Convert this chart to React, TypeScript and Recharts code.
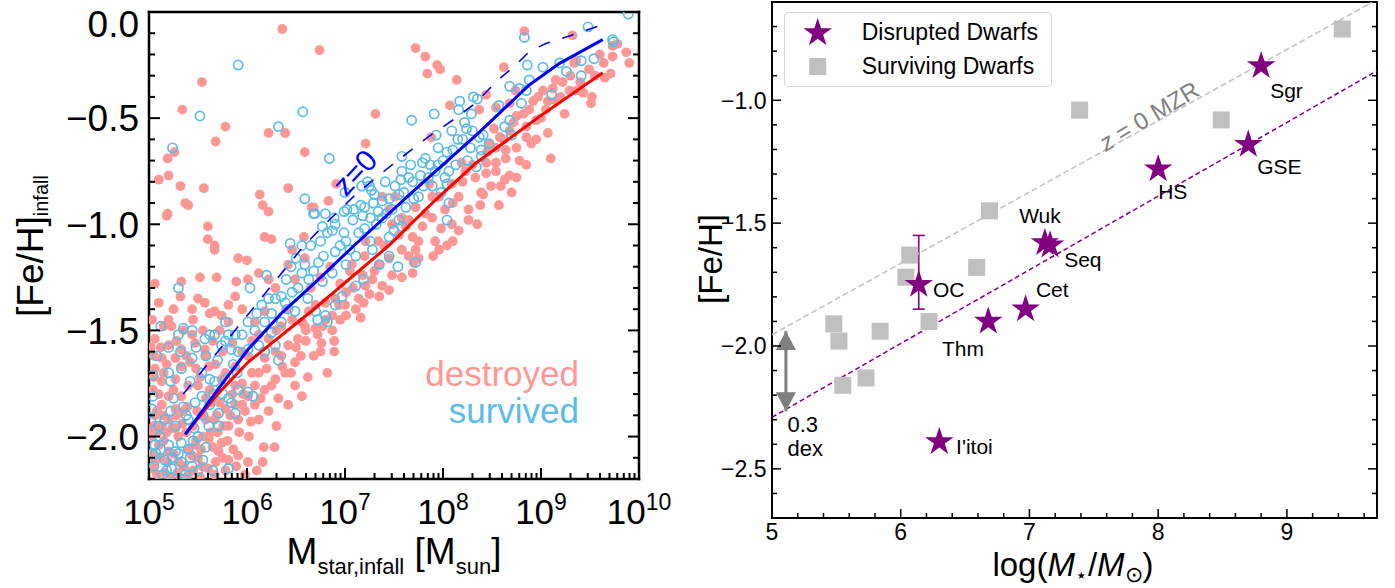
import React from "react";
import { ScatterChart, Scatter, XAxis, YAxis, ErrorBar } from "recharts";

const FONT = '"Liberation Sans", Arial, Helvetica, sans-serif';

// ---------- left panel: log10(M_star,infall) vs [Fe/H]_infall ----------
const destroyed: [number, number][] = [
  [6.36, -0.08], [5.54, -0.33], [5.34, -0.46], [5.78, -0.54], [5.68, -0.61], [6.22, -0.57], [6.39, -0.57],
  [6.59, -0.66], [5.19, -0.69], [5.26, -0.66], [5.2, -0.77], [5.1, -0.79], [5.32, -0.82], [5.56, -0.83],
  [5.37, -0.9], [5.4, -0.91], [5.19, -0.95], [5.18, -0.96], [6.13, -0.86], [6.16, -0.91], [6.22, -0.94],
  [6.42, -0.83], [6.66, -0.92], [5.6, -1.01], [5.6, -1.07], [6.18, -1.06], [6.25, -1.07], [6.58, -1.06],
  [5.67, -1.1],
  [6.74, -0.18], [7.72, -0.17], [7.82, -0.21], [7.94, -0.25], [7.97, -0.27], [7.84, -0.29], [8.14, -0.32],
  [8.07, -0.44], [7.31, -0.48], [7.21, -0.62], [7.88, -0.59], [6.83, -0.89], [6.68, -0.92], [6.91, -0.81],
  [8.19, -0.71], [8.23, -0.75], [8.33, -0.78], [8.09, -0.81], [7.96, -0.87], [8.16, -0.87], [8.26, -0.93],
  [8.02, -0.93], [7.89, -0.97], [8.09, -1.0], [8.26, -0.98], [8.16, -1.03], [7.79, -1.01], [7.69, -1.06],
  [7.92, -1.08], [7.75, -1.08], [7.51, -0.87], [7.45, -0.93], [7.58, -0.97], [7.62, -1.01], [7.86, -0.81],
  [7.89, -0.87], [7.38, -0.87], [7.48, -1.0], [7.34, -1.08], [7.21, -1.08],
  [8.83, -0.09], [9.32, -0.11], [9.87, -0.19], [9.9, -0.24], [9.73, -0.16], [9.78, -0.15], [9.73, -0.21],
  [9.64, -0.24], [9.49, -0.27], [9.36, -0.23], [9.34, -0.24], [9.65, -0.31], [9.71, -0.29], [8.62, -0.26],
  [9.15, -0.32], [9.22, -0.33], [9.02, -0.37], [9.29, -0.37], [9.43, -0.38], [9.36, -0.37], [9.52, -0.4],
  [9.51, -0.43], [8.44, -0.39], [8.74, -0.37], [8.97, -0.4], [9.07, -0.42], [9.15, -0.42], [8.88, -0.46],
  [9.05, -0.46], [9.24, -0.48], [8.75, -0.49], [8.68, -0.43], [8.54, -0.45], [8.37, -0.46], [8.95, -0.51],
  [8.85, -0.54], [9.07, -0.57], [8.95, -0.6], [8.85, -0.59], [8.68, -0.56], [8.58, -0.59], [8.47, -0.62],
  [8.75, -0.64], [8.64, -0.65], [8.54, -0.64], [9.1, -0.69], [8.78, -0.7], [8.85, -0.72], [8.64, -0.69],
  [8.54, -0.71], [8.44, -0.71], [8.68, -0.77], [8.54, -0.75], [8.63, -0.79], [8.49, -0.82], [8.39, -0.85],
  [8.41, -0.86], [8.59, -0.82], [8.38, -0.91], [8.57, -0.91], [8.44, -0.76],
  [5.67, -1.12], [5.91, -1.16], [6.0, -1.17], [6.12, -1.23], [5.69, -1.25], [5.52, -1.25], [6.01, -1.26],
  [5.89, -1.27], [5.33, -1.27], [5.06, -1.28], [5.1, -1.37], [5.32, -1.34], [5.44, -1.4], [5.57, -1.37],
  [5.81, -1.38], [5.67, -1.41], [5.88, -1.34], [5.95, -1.4], [5.03, -1.45], [5.2, -1.45], [5.23, -1.48],
  [5.44, -1.52], [5.74, -1.43], [5.81, -1.46], [5.06, -1.54], [5.2, -1.57], [5.33, -1.59], [5.13, -1.63],
  [5.27, -1.63], [5.06, -1.68], [5.47, -1.56], [5.57, -1.59], [5.33, -1.67], [5.27, -1.73], [5.13, -1.74],
  [5.04, -1.78], [5.2, -1.81], [5.33, -1.81], [5.13, -1.85], [5.27, -1.87], [5.06, -1.9], [5.13, -1.95],
  [5.01, -1.98], [5.27, -1.96], [5.1, -2.04], [5.2, -2.07], [5.06, -2.12], [5.3, -2.12], [5.16, -2.17],
  [5.4, -2.18], [5.54, -2.14], [5.67, -2.18], [5.81, -2.11], [5.91, -2.09], [5.89, -2.14], [5.71, -2.07],
  [5.47, -2.04], [5.61, -2.01], [5.74, -2.03], [5.81, -1.95], [5.91, -1.92], [5.67, -1.92], [5.54, -1.9],
  [5.64, -1.84], [5.78, -1.87], [5.95, -1.85], [6.01, -1.81], [6.08, -1.76], [6.18, -1.78], [6.29, -1.73],
  [6.39, -1.7], [6.49, -1.65], [6.56, -1.81], [6.49, -1.76], [6.17, -2.05], [6.28, -2.05], [6.01, -2.12],
  [6.16, -2.12], [5.88, -1.85], [5.4, -1.76], [5.5, -1.76], [6.12, -1.7], [6.18, -1.63], [6.29, -1.6],
  [6.01, -1.62], [5.88, -1.67], [5.74, -1.73], [5.61, -1.67], [6.42, -1.57], [6.52, -1.54], [6.59, -1.48],
  [6.63, -1.41], [6.56, -1.46], [6.12, -1.52], [6.22, -1.54], [6.35, -1.48], [6.46, -1.45], [6.08, -1.46],
  [6.18, -1.41], [6.29, -1.3], [6.22, -1.26], [6.49, -1.26], [6.59, -1.16], [6.46, -1.12], [6.42, -1.19],
  [5.05, -1.62], [5.15, -1.7], [5.25, -1.78], [5.35, -1.88], [5.45, -1.95], [5.55, -2.0], [5.65, -2.05],
  [5.75, -2.1], [5.1, -1.8], [5.2, -1.92], [5.3, -2.0], [5.4, -2.06], [5.5, -2.1], [5.6, -2.15],
  [5.05, -1.95], [5.15, -2.02], [5.25, -2.08], [5.35, -2.14], [5.45, -2.16], [5.7, -1.98], [5.8, -2.02],
  [5.85, -1.8], [5.95, -1.75], [6.05, -1.7], [5.75, -1.6], [5.65, -1.55], [5.55, -1.5], [5.45, -1.45],
  [5.35, -1.5], [5.25, -1.4], [5.15, -1.48], [5.02, -1.58], [5.42, -1.65], [5.52, -1.72], [5.62, -1.78],
  [5.72, -1.84], [5.92, -1.98], [6.02, -2.0], [6.12, -1.92], [6.22, -1.88], [6.32, -1.82], [6.42, -1.85],
  [6.3, -1.95], [5.08, -2.18], [5.22, -2.19], [5.02, -2.08],
  [5.05, -1.72], [5.12, -1.58], [5.18, -1.66], [5.28, -1.55], [5.38, -1.62], [5.48, -1.68], [5.58, -1.62],
  [5.68, -1.66], [5.78, -1.7], [5.88, -1.76], [5.98, -1.88], [6.08, -1.85], [5.08, -1.88], [5.18, -1.98],
  [5.28, -1.9], [5.38, -1.98], [5.48, -2.02], [5.58, -1.92], [5.68, -2.12], [5.78, -2.16], [5.12, -2.1],
  [5.32, -2.2], [5.52, -2.19], [5.98, -2.18], [6.1, -2.16], [5.62, -1.42], [5.5, -1.35], [5.72, -1.5],
  [5.85, -1.56], [5.95, -1.6], [6.05, -1.55], [6.2, -1.68], [6.35, -1.62], [6.45, -1.7], [6.55, -1.62],
  [6.62, -1.72], [6.72, -1.52], [6.8, -1.45], [6.9, -1.35], [7.0, -1.38], [7.08, -1.3], [7.2, -1.15],
  [7.3, -1.22], [7.4, -1.1], [7.55, -1.05], [7.65, -0.98], [7.72, -0.92], [7.82, -0.95], [7.98, -1.02],
  [8.1, -0.9], [8.2, -0.8], [8.3, -0.72], [8.45, -0.66], [8.52, -0.55], [8.62, -0.6], [8.72, -0.52],
  [8.82, -0.48], [8.92, -0.42], [9.0, -0.5], [9.12, -0.36], [9.2, -0.4], [9.3, -0.3], [9.4, -0.33],
  [9.55, -0.3], [9.6, -0.2], [8.9, -0.62], [8.75, -0.78], [8.7, -0.85], [8.35, -1.0], [8.1, -1.08],
  [7.9, -1.15], [7.7, -1.18],
  [5.02, -2.0], [5.04, -2.15], [5.09, -1.98], [5.14, -1.9], [5.19, -2.12], [5.24, -1.96], [5.29, -2.17],
  [5.34, -1.94], [5.39, -1.86], [5.44, -2.09], [5.49, -1.88], [5.53, -2.06], [5.58, -1.82], [5.63, -1.98],
  [5.69, -1.9], [5.76, -1.95], [5.83, -1.9], [5.86, -2.06], [5.96, -1.8], [6.04, -1.93], [6.14, -1.82],
  [6.25, -1.76], [6.36, -1.67], [6.5, -1.58], [6.6, -1.5], [6.3, -1.5], [6.4, -1.4],
  [7.96, -1.12], [8.04, -1.1], [7.72, -1.12], [7.65, -1.15], [7.75, -1.16], [7.69, -1.23], [7.48, -1.24],
  [7.58, -1.25], [7.45, -1.31], [7.35, -1.34], [7.21, -1.29], [7.14, -1.35], [7.19, -1.37], [7.11, -1.4],
  [7.16, -1.44], [7.01, -1.43], [6.87, -1.43], [6.77, -1.48], [6.87, -1.5], [6.7, -1.49], [6.76, -1.56],
  [6.89, -1.55], [6.75, -1.6], [6.89, -1.6], [6.82, -1.7], [7.28, -1.26], [7.38, -1.29], [7.18, -1.24],
  [7.01, -1.32], [6.94, -1.38], [6.8, -1.37], [7.07, -1.19], [7.35, -1.19], [7.45, -1.16], [7.58, -1.12],
  [6.65, -1.3], [6.75, -1.25], [6.85, -1.2], [6.95, -1.28], [7.05, -1.22], [6.7, -1.38], [6.95, -1.45],
  [7.25, -1.33], [6.6, -1.55], [6.68, -1.62],
];

const survived: [number, number][] = [
  [5.91, -0.25], [5.52, -0.49], [5.24, -0.64], [6.32, -0.54], [6.57, -0.47], [6.59, -0.88], [6.68, -0.95],
  [6.44, -1.09], [6.56, -1.1],
  [6.84, -0.69], [6.69, -0.95], [7.68, -0.51], [7.91, -0.48], [8.17, -0.42], [8.31, -0.4], [8.29, -0.48],
  [8.16, -0.46], [8.24, -0.55], [8.09, -0.56], [7.93, -0.58], [8.15, -0.6], [8.04, -0.66], [8.28, -0.64],
  [7.95, -0.64], [7.58, -0.68], [7.82, -0.69], [7.87, -0.72], [7.67, -0.72], [7.79, -0.71], [7.58, -0.75],
  [7.57, -0.79], [7.77, -0.77], [7.69, -0.8], [8.06, -0.75], [8.13, -0.72], [8.02, -0.78], [8.04, -0.81],
  [7.89, -0.82], [7.98, -0.85], [7.41, -0.8], [7.51, -0.82], [7.25, -0.82], [7.27, -0.84], [7.23, -0.8],
  [7.17, -0.82], [7.0, -0.85], [7.02, -0.93], [6.99, -0.94], [6.8, -0.95], [6.89, -0.97], [6.77, -1.01],
  [6.87, -1.03], [7.16, -0.91], [7.29, -0.9], [7.38, -0.89], [7.34, -0.94], [7.18, -0.96], [7.26, -0.97],
  [7.38, -0.97], [7.48, -0.93], [7.55, -0.98], [7.5, -1.03], [7.62, -0.92], [7.55, -0.86], [7.75, -0.87],
  [8.06, -0.9], [8.04, -0.98], [7.01, -1.08], [7.14, -1.04], [7.26, -1.08], [7.45, -1.06], [7.58, -1.01],
  [6.9, -1.0], [6.82, -1.04], [6.99, -1.04], [7.09, -0.93],
  [9.89, -0.01], [9.48, -0.07], [8.83, -0.12], [9.73, -0.13], [9.74, -0.14], [9.54, -0.22], [9.41, -0.23],
  [9.19, -0.24], [9.26, -0.28], [9.41, -0.3], [9.02, -0.26], [8.86, -0.25], [8.88, -0.32], [8.68, -0.35],
  [8.78, -0.36], [8.85, -0.37], [9.11, -0.39], [8.8, -0.43], [8.57, -0.44], [8.68, -0.51], [8.63, -0.54],
  [8.7, -0.58], [8.47, -0.62], [8.41, -0.58], [8.37, -0.59], [8.39, -0.65], [8.39, -0.68], [8.34, -0.73],
  [8.35, -0.41],
  [5.3, -1.3], [5.12, -1.48], [5.35, -1.49], [5.3, -1.52], [5.44, -1.5], [5.62, -1.52], [5.67, -1.52],
  [5.57, -1.54], [5.78, -1.46], [5.81, -1.52], [5.88, -1.52], [6.01, -1.46], [6.2, -1.24], [6.03, -1.3],
  [6.29, -1.35], [6.35, -1.34], [6.39, -1.37], [6.46, -1.32], [6.56, -1.23], [6.59, -1.19], [6.63, -1.26],
  [6.49, -1.41], [6.35, -1.46], [6.18, -1.46], [6.25, -1.51], [6.12, -1.57], [6.01, -1.59], [5.91, -1.6],
  [5.84, -1.59], [5.74, -1.57], [5.44, -1.63], [5.33, -1.68], [5.2, -1.7], [5.04, -1.71], [5.22, -1.74],
  [5.42, -1.74], [5.54, -1.7], [5.67, -1.74], [5.62, -1.73], [5.78, -1.73], [5.91, -1.78], [6.01, -1.79],
  [6.06, -1.81], [5.81, -1.82], [5.84, -1.84], [5.71, -1.89], [5.88, -1.89], [6.32, -1.64], [6.18, -1.6],
  [6.29, -1.57], [5.04, -1.81], [5.03, -1.87], [5.16, -1.92], [5.27, -1.95], [5.4, -1.92], [5.5, -2.0],
  [5.33, -2.03], [5.2, -2.04], [5.06, -2.04], [5.03, -2.08], [5.16, -2.11], [5.27, -2.07], [5.4, -2.06],
  [5.33, -2.12], [5.44, -2.14], [5.55, -2.11], [5.23, -2.15], [5.37, -2.18], [5.81, -2.15], [5.71, -1.95],
  [5.61, -1.95], [5.11, -2.0], [5.54, -1.81], [5.47, -1.84],
  [5.08, -1.62], [5.2, -1.58], [5.32, -1.6], [5.48, -1.58], [5.58, -1.62], [5.7, -1.64], [5.78, -1.55],
  [5.95, -1.52], [6.08, -1.5], [6.15, -1.38], [6.25, -1.42], [6.42, -1.4], [6.52, -1.3], [6.45, -1.2],
  [6.62, -1.35], [6.68, -1.22], [6.78, -1.15], [6.95, -1.1], [7.05, -1.12], [7.2, -1.02], [7.32, -1.0],
  [7.42, -0.95], [7.6, -0.85], [7.7, -0.88], [7.85, -0.78], [7.95, -0.72], [8.1, -0.65], [8.2, -0.6],
  [8.25, -0.7], [5.1, -1.95], [5.22, -1.88], [5.35, -1.86], [5.45, -2.02], [5.58, -2.05], [5.65, -2.16],
  [5.14, -2.18], [5.28, -2.2], [5.05, -2.14], [5.9, -1.7], [5.75, -1.8], [5.62, -1.85],
  [5.02, -1.93], [5.07, -2.08], [5.12, -2.06], [5.18, -2.16], [5.24, -2.1], [5.3, -2.08], [5.36, -2.2],
  [5.42, -2.1], [5.5, -2.16], [5.46, -1.96], [5.38, -1.9], [5.25, -1.82], [5.55, -1.9], [5.66, -1.8],
  [5.86, -1.66], [6.1, -1.42], [6.22, -1.35], [6.4, -1.26], [6.5, -1.16], [6.65, -1.1], [6.75, -1.08],
  [7.08, -0.98], [7.2, -0.92], [7.3, -0.86], [7.45, -0.88], [7.65, -0.78], [7.8, -0.82], [7.92, -0.75],
  [8.0, -0.7], [8.22, -0.52], [8.3, -0.56],
  [7.54, -1.2], [7.72, -1.18], [7.45, -1.15], [7.35, -1.19], [7.19, -1.26], [7.11, -1.29], [6.97, -1.34],
  [6.9, -1.38], [6.8, -1.43], [6.72, -1.45], [6.82, -1.46], [6.7, -1.41], [7.01, -1.19], [6.87, -1.23],
  [6.77, -1.27], [7.28, -1.12], [7.11, -1.15], [6.9, -1.13], [6.73, -1.18],
];

// running medians and the z=0 relation
const survivedMedian: [number, number][] = [
  [5.37, -1.99], [5.7, -1.78], [6.01, -1.59], [6.35, -1.42], [6.67, -1.285], [7.11, -1.093], [7.7, -0.843],
  [8.35, -0.575], [8.88, -0.344], [9.19, -0.242], [9.63, -0.13],
];
const destroyedMedian: [number, number][] = [
  [5.37, -1.99], [5.7, -1.8], [6.01, -1.65], [6.67, -1.405], [7.46, -1.095], [7.92, -0.887], [8.34, -0.71],
  [8.98, -0.494], [9.63, -0.286],
];
const z0Relation: [number, number][] = [
  [5.35, -1.8], [6.57, -1.107], [6.8, -0.997], [7.12, -0.855], [7.48, -0.72], [7.85, -0.588], [8.11, -0.506],
  [8.33, -0.43], [8.54, -0.33], [8.76, -0.242], [8.88, -0.187], [9.05, -0.148], [9.32, -0.108], [9.64, -0.058],
];

const leftXMajor = [5, 6, 7, 8, 9, 10];
const leftYMajor = [0, -0.5, -1, -1.5, -2];
const leftYLabels = ["0.0", "\u22120.5", "\u22121.0", "\u22121.5", "\u22122.0"];

// ---------- right panel ----------
const dwarfNames = ["Sgr", "GSE", "HS", "Wuk", "Seq", "OC", "Cet", "Thm", "I'itoi"];
const dwarfLogM = [8.8, 8.7, 8.0, 7.12, 7.16, 6.14, 6.97, 6.68, 6.3];
const dwarfFeH = [-0.86, -1.18, -1.28, -1.58, -1.59, -1.75, -1.85, -1.9, -2.39];
const labelLogM = [8.87, 8.77, 8.0, 6.92, 7.27, 6.25, 7.05, 6.32, 6.43];
const labelFeH = [-0.96, -1.27, -1.37, -1.47, -1.65, -1.77, -1.77, -2.01, -2.41];

const survivingLogM = [9.43, 7.39, 8.49, 6.69, 6.07, 6.04, 6.59, 6.22, 5.48, 5.52, 5.84, 5.55, 5.73];
const survivingFeH = [-0.71, -1.04, -1.08, -1.45, -1.63, -1.72, -1.68, -1.9, -1.91, -1.98, -1.94, -2.16, -2.13];

const ocError = { m: 6.14, feh: -1.75, err: [0.1, 0.2] };
const mzrLine: [number, number][] = [[5, -1.954], [9.7, -0.59]];
const offsetLine: [number, number][] = [[5, -2.29], [9.7, -0.88]];
const arrowEnds = [
  { m: 5.108, feh: -1.939, dir: 1 },
  { m: 5.108, feh: -2.266, dir: -1 },
];

const rightXMajor = [5, 6, 7, 8, 9];
const rightYMajor = [-2.5, -2, -1.5, -1];
const rightYLabels = ["\u22122.5", "\u22122.0", "\u22121.5", "\u22121.0"];

// minor tick helpers
const stepTicks = (a: number, b: number, s: number) => {
  const out: number[] = [];
  for (let v = a; v <= b + 1e-9; v += s) out.push(Math.round(v * 1000) / 1000);
  return out;
};
const leftXMinor: number[] = [];
for (let n = 5; n < 10; n++) for (let k = 2; k <= 9; k++) leftXMinor.push(n + Math.log10(k));
const leftYTicks = stepTicks(-2.2, 0, 0.1);
const rightXTicks = stepTicks(5, 9.6, 0.2);
const rightYTicks = stepTicks(-2.7, -0.6, 0.1);

const toPts = (arr: [number, number][]) => arr.map(([m, feh]) => ({ m, feh }));

// plot-area edges (chart-local pixels)
const L = { w: 700, h: 588, left: 149, right: 639, top: 12, bottom: 479 };
const R = { w: 695, h: 588, left: 72, right: 677, top: 2, bottom: 518 };

type Side = "bottom" | "top" | "left" | "right";

function edgeTick(
  side: Side,
  edge: number,
  majors: number[],
  majorLen: number,
  minorLen: number,
  sw: number,
  label?: (v: number, i: number, x: number, y: number) => React.ReactNode
) {
  return (props: any) => {
    const { x, y, payload } = props;
    const v = payload?.value;
    const mi = majors.findIndex((m) => Math.abs(m - v) < 1e-6);
    const len = mi >= 0 ? majorLen : minorLen;
    let ln;
    if (side === "bottom") ln = <line x1={x} x2={x} y1={edge} y2={edge - len} />;
    else if (side === "top") ln = <line x1={x} x2={x} y1={edge} y2={edge + len} />;
    else if (side === "left") ln = <line x1={edge} x2={edge + len} y1={y} y2={y} />;
    else ln = <line x1={edge} x2={edge - len} y1={y} y2={y} />;
    return (
      <g>
        <g stroke="#000" strokeWidth={sw}>{ln}</g>
        {mi >= 0 && label ? label(v, mi, x, y) : null}
      </g>
    );
  };
}

function starPath(cx: number, cy: number, r0: number) {
  const r1 = r0 * 0.381966;
  let d = "";
  for (let i = 0; i < 10; i++) {
    const rad = i % 2 === 0 ? r0 : r1;
    const a = -Math.PI / 2 + (i * Math.PI) / 5;
    d += (i === 0 ? "M" : "L") + (cx + rad * Math.cos(a)).toFixed(2) + "," + (cy + rad * Math.sin(a)).toFixed(2);
  }
  return d + "Z";
}

const none = () => <g />;

function LeftPanel() {
  const axisLine = { stroke: "#000", strokeWidth: 2.5, strokeLinecap: "square" as const };
  return (
    <ScatterChart width={L.w} height={L.h} margin={{ top: 0, right: 0, bottom: 0, left: 0 }}>
      <XAxis
        xAxisId="b" dataKey="m" type="number" domain={[5, 10]} allowDataOverflow
        ticks={[...leftXMajor, ...leftXMinor]} interval={0} height={L.h - L.bottom}
        tickLine={false} axisLine={axisLine}
        tick={edgeTick("bottom", L.bottom, leftXMajor, 11, 6, 2, (v, i, x) => (
          <text x={x} y={524} textAnchor="middle" fontFamily={FONT} fontSize={35} fill="#000">
            10<tspan dy={-14} fontSize={23}>{v}</tspan>
          </text>
        ))}
      />
      <XAxis
        xAxisId="t" orientation="top" type="number" domain={[5, 10]} allowDataOverflow
        ticks={[...leftXMajor, ...leftXMinor]} interval={0} height={L.top}
        tickLine={false} axisLine={axisLine}
        tick={edgeTick("top", L.top, leftXMajor, 11, 6, 2)}
      />
      <YAxis
        yAxisId="l" dataKey="feh" type="number" domain={[-2.2, 0]} allowDataOverflow
        ticks={leftYTicks} interval={0} width={L.left}
        tickLine={false} axisLine={axisLine}
        tick={edgeTick("left", L.left, leftYMajor, 11, 6, 2, (v, i, x, y) => (
          <text x={139} y={y + (i === 0 ? 12 : 0)} dy="0.36em" textAnchor="end" fontFamily={FONT} fontSize={37} fill="#000">
            {leftYLabels[i]}
          </text>
        ))}
      />
      <YAxis
        yAxisId="r" orientation="right" type="number" domain={[-2.2, 0]} allowDataOverflow
        ticks={leftYTicks} interval={0} width={L.w - L.right}
        tickLine={false} axisLine={axisLine}
        tick={edgeTick("right", L.right, leftYMajor, 11, 6, 2)}
      />

      <Scatter xAxisId="b" yAxisId="l" data={toPts(destroyed)} isAnimationActive={false}
        shape={(p: any) => <circle cx={p.cx} cy={p.cy} r={4.9} fill="#ff9797" />} />
      <Scatter xAxisId="b" yAxisId="l" data={toPts(survived)} isAnimationActive={false}
        shape={(p: any) => <circle cx={p.cx} cy={p.cy} r={4.6} fill="none" stroke="#5bbce8" strokeWidth={1.7} />} />

      <Scatter xAxisId="b" yAxisId="l" data={toPts(z0Relation)} isAnimationActive={false} shape={none}
        line={{ stroke: "#0000ff", strokeWidth: 1.6, strokeDasharray: "12 13" }} />
      <Scatter xAxisId="b" yAxisId="l" data={toPts(destroyedMedian)} isAnimationActive={false} shape={none}
        line={{ stroke: "#ff0000", strokeWidth: 3 }} />
      <Scatter xAxisId="b" yAxisId="l" data={toPts(survivedMedian)} isAnimationActive={false} shape={none}
        line={{ stroke: "#0000ff", strokeWidth: 3 }} />

      <Scatter xAxisId="b" yAxisId="l" data={[{ m: 7.1, feh: -0.755 }]} isAnimationActive={false}
        shape={(p: any) => (
          <text x={p.cx} y={p.cy} dy="0.35em" textAnchor="middle" transform={`rotate(-47 ${p.cx} ${p.cy})`}
            fontFamily={FONT} fontSize={30} fill="#0000ff">z=0</text>
        )} />
      <Scatter xAxisId="b" yAxisId="l" data={[{ m: 9.388, feh: -1.764, t: "destroyed", c: "#ff9797" }, { m: 9.388, feh: -1.936, t: "survived", c: "#5bbce8" }]}
        isAnimationActive={false}
        shape={(p: any) => (
          <text x={p.cx} y={p.cy} textAnchor="end" fontFamily={FONT} fontSize={35} fill={p.payload?.c ?? p.c}>
            {p.payload?.t ?? p.t}
          </text>
        )} />
    </ScatterChart>
  );
}

function RightPanel() {
  const axisLine = { stroke: "#000", strokeWidth: 2, strokeLinecap: "square" as const };
  const dwarfs = dwarfNames.map((name, i) => ({ name, m: dwarfLogM[i], feh: dwarfFeH[i] }));
  const labels = dwarfNames.map((name, i) => ({ name, m: labelLogM[i], feh: labelFeH[i] }));
  const squares = survivingLogM.map((m, i) => ({ m, feh: survivingFeH[i] }));
  return (
    <ScatterChart width={R.w} height={R.h} margin={{ top: 0, right: 0, bottom: 0, left: 0 }}>
      <XAxis
        xAxisId="b" dataKey="m" type="number" domain={[5, 9.7]} allowDataOverflow
        ticks={rightXTicks} interval={0} height={R.h - R.bottom}
        tickLine={false} axisLine={axisLine}
        tick={edgeTick("bottom", R.bottom, rightXMajor, 9, 5, 1.5, (v, i, x) => (
          <text x={x} y={540} textAnchor="middle" fontFamily={FONT} fontSize={23} fill="#000">{v}</text>
        ))}
      />
      <XAxis
        xAxisId="t" orientation="top" type="number" domain={[5, 9.7]} allowDataOverflow
        ticks={rightXTicks} interval={0} height={R.top}
        tickLine={false} axisLine={axisLine}
        tick={edgeTick("top", R.top, rightXMajor, 9, 5, 1.5)}
      />
      <YAxis
        yAxisId="l" dataKey="feh" type="number" domain={[-2.7, -0.6]} allowDataOverflow
        ticks={rightYTicks} interval={0} width={R.left}
        tickLine={false} axisLine={axisLine}
        tick={edgeTick("left", R.left, rightYMajor, 9, 5, 1.5, (v, i, x, y) => (
          <text x={66.5} y={y} dy="0.36em" textAnchor="end" fontFamily={FONT} fontSize={23} fill="#000">
            {rightYLabels[i]}
          </text>
        ))}
      />
      <YAxis
        yAxisId="r" orientation="right" type="number" domain={[-2.7, -0.6]} allowDataOverflow
        ticks={rightYTicks} interval={0} width={R.w - R.right}
        tickLine={false} axisLine={axisLine}
        tick={edgeTick("right", R.right, rightYMajor, 9, 5, 1.5)}
      />

      <Scatter xAxisId="b" yAxisId="l" data={toPts(mzrLine)} isAnimationActive={false} shape={none}
        line={{ stroke: "#c4c4c4", strokeWidth: 1.6, strokeDasharray: "6 3" }} />
      <Scatter xAxisId="b" yAxisId="l" data={toPts(offsetLine)} isAnimationActive={false} shape={none}
        line={{ stroke: "#800080", strokeWidth: 1.5, strokeDasharray: "5 3" }} />

      <Scatter xAxisId="b" yAxisId="l" data={squares} isAnimationActive={false}
        shape={(p: any) => <rect x={p.cx - 8.5} y={p.cy - 8.5} width={17} height={17} fill="#c0c0c0" />} />

      <Scatter xAxisId="b" yAxisId="l" data={[ocError]} isAnimationActive={false} shape={none}>
        <ErrorBar dataKey="err" direction="y" width={6} stroke="#800080" strokeWidth={1.6} />
      </Scatter>

      <Scatter xAxisId="b" yAxisId="l" data={dwarfs} isAnimationActive={false}
        shape={(p: any) => <path d={starPath(p.cx, p.cy, 15)} fill="#800080" />} />

      <Scatter xAxisId="b" yAxisId="l" data={labels} isAnimationActive={false}
        shape={(p: any) => (
          <text x={p.cx} y={p.cy} dy="0.35em" fontFamily={FONT} fontSize={21} fill="#000">{p.payload?.name ?? p.name}</text>
        )} />

      <Scatter xAxisId="b" yAxisId="l" data={arrowEnds} isAnimationActive={false}
        line={{ stroke: "#808080", strokeWidth: 3 }}
        shape={(p: any) => {
          const d = p.payload?.dir ?? p.dir;
          const b = p.cy + d * 19;
          return <path d={`M${p.cx},${p.cy}L${p.cx - 10},${b}L${p.cx + 10},${b}Z`} fill="#808080" />;
        }} />
      <Scatter xAxisId="b" yAxisId="l" data={[{ m: 5.12, feh: -2.32, t: "0.3" }, { m: 5.12, feh: -2.415, t: "dex" }]}
        isAnimationActive={false}
        shape={(p: any) => (
          <text x={p.cx} y={p.cy} dy="0.35em" fontFamily={FONT} fontSize={22} fill="#000">{p.payload?.t ?? p.t}</text>
        )} />

      <Scatter xAxisId="b" yAxisId="l" data={[{ m: 7.93, feh: -1.064 }]} isAnimationActive={false}
        shape={(p: any) => (
          <text x={p.cx} y={p.cy} dy="0.35em" textAnchor="middle" transform={`rotate(-31 ${p.cx} ${p.cy})`}
            fontFamily={FONT} fontSize={24} fill="#808080">
            <tspan fontStyle="italic">z</tspan> = 0 MZR
          </text>
        )} />
    </ScatterChart>
  );
}

export default function App() {
  return (
    <div style={{ position: "absolute", left: 0, top: 0, width: 1395, height: 588, background: "#fff", overflow: "hidden" }}>
      <div style={{ position: "absolute", left: 0, top: 0 }}>
        <LeftPanel />
      </div>
      <svg style={{ position: "absolute", left: 0, top: 0 }} width={680} height={588}>
        <text transform="rotate(-90 43 246)" x={43} y={246} textAnchor="middle" fontFamily={FONT} fontSize={37} fill="#000">
          [Fe/H]<tspan dy={5} fontSize={20}>infall</tspan>
        </text>
        <text x={394} y={564} textAnchor="middle" fontFamily={FONT} fontSize={37} fill="#000">
          M<tspan dy={10} fontSize={22}>star,infall</tspan>
          <tspan dy={-10}> [M</tspan>
          <tspan dy={10} fontSize={22}>sun</tspan>
          <tspan dy={-10}>]</tspan>
        </text>
      </svg>
      <div style={{ position: "absolute", left: 700, top: 0 }}>
        <RightPanel />
      </div>
      <svg style={{ position: "absolute", left: 680, top: 0 }} width={715} height={588}>
        <text transform="rotate(-90 42 259)" x={42} y={259} textAnchor="middle" fontFamily={FONT} fontSize={33} fill="#000">
          [Fe/H]
        </text>
        <text x={393} y={576} textAnchor="middle" fontFamily={FONT} fontSize={33} fill="#000">
          log(<tspan fontStyle="italic">M</tspan>
          <tspan dy={6} fontSize={20}>{"\u22C6"}</tspan>
          <tspan dy={-6}>/</tspan>
          <tspan fontStyle="italic">M</tspan>
          <tspan dy={6} fontSize={22}>{"\u2299"}</tspan>
          <tspan dy={-6}>)</tspan>
        </text>
      </svg>
      <div style={{ position: "absolute", left: 784, top: 12, width: 268, height: 75, border: "1px solid #d6d6d6", borderRadius: 4, background: "rgba(255,255,255,0.85)", boxSizing: "border-box" }}>
        <svg width={268} height={75} style={{ position: "absolute", left: -1, top: -1 }}>
          <path d={starPath(33.7, 21, 15)} fill="#800080" />
          <rect x={25.2} y={46} width={17} height={17} fill="#c0c0c0" />
          <text x={77.7} y={20} dy="0.35em" fontFamily={FONT} fontSize={23} fill="#000">Disrupted Dwarfs</text>
          <text x={77.7} y={54} dy="0.35em" fontFamily={FONT} fontSize={23} fill="#000">Surviving Dwarfs</text>
        </svg>
      </div>
    </div>
  );
}
